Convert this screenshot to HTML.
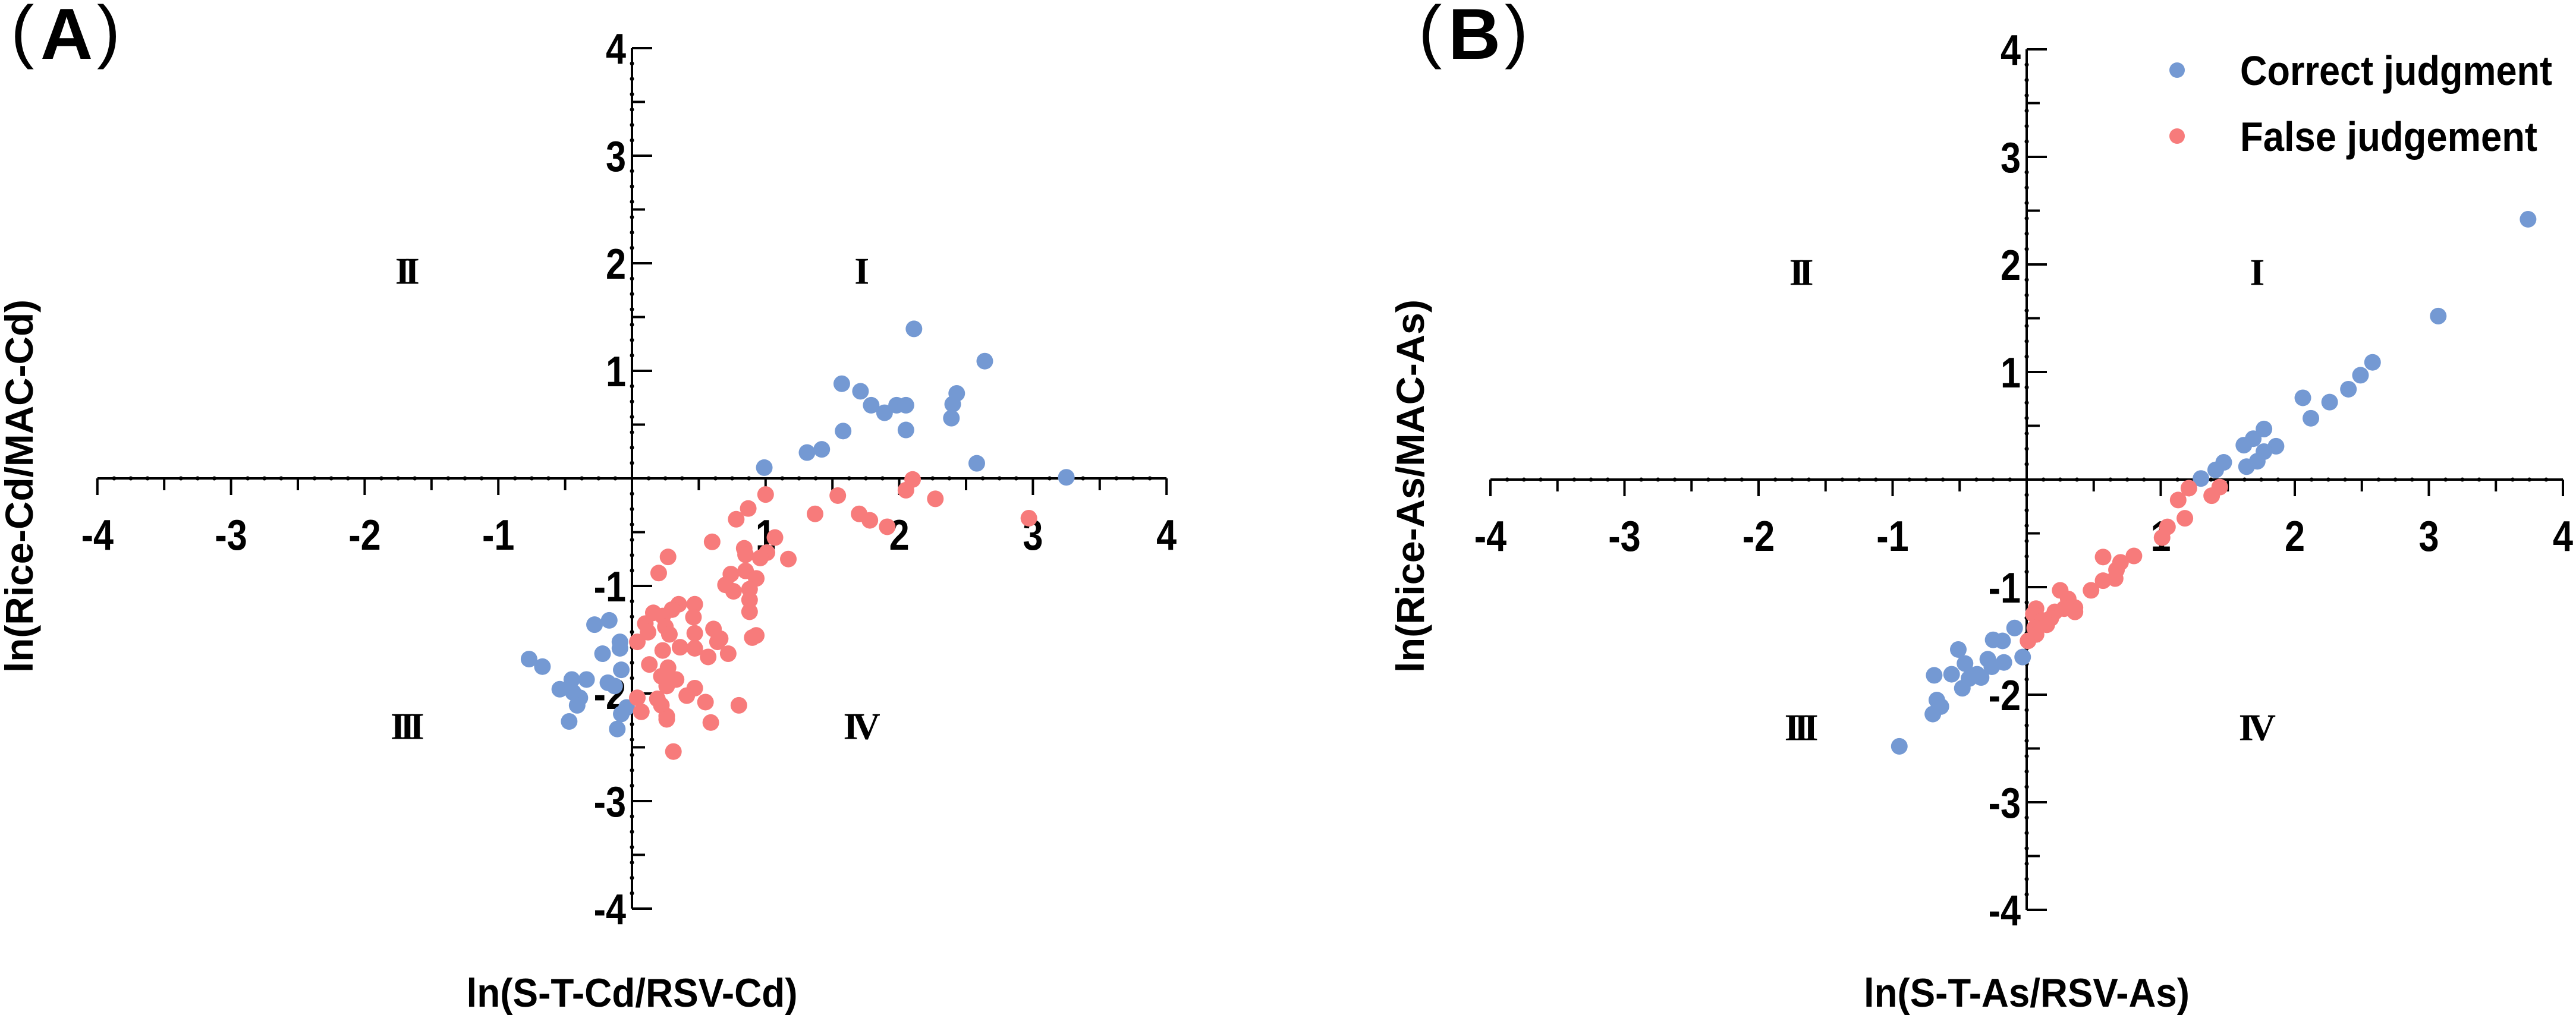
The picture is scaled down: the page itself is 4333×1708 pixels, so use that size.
<!DOCTYPE html>
<html><head><meta charset="utf-8"><style>
html,body{margin:0;padding:0;background:#fff;}
svg{display:block;}
text{font-family:"Liberation Sans",sans-serif;font-weight:bold;fill:#000;}
.rn{font-family:"Liberation Serif",serif;font-weight:bold;}
.par{font-weight:normal;}
</style></head><body>
<svg id="chart" width="4333" height="1708" viewBox="0 0 4333 1708" xmlns="http://www.w3.org/2000/svg"></svg>
<script>
// Panel A data (Cd)
const aCorrectX=[2.11,2.64,1.57,1.71,1.79,1.89,1.98,2.05,2.05,2.43,2.40,2.39,1.58,1.42,1.31,0.99,2.58,3.25,-0.77,-0.67,-0.28,-0.17,-0.09,-0.09,-0.22,-0.08,-0.45,-0.34,-0.18,-0.13,-0.54,-0.44,-0.39,-0.41,-0.47,-0.04,-0.08,-0.11];
const aCorrectY=[1.39,1.09,0.88,0.81,0.68,0.61,0.68,0.68,0.45,0.79,0.69,0.56,0.44,0.27,0.24,0.10,0.14,0.01,-1.68,-1.75,-1.36,-1.32,-1.52,-1.58,-1.63,-1.78,-1.87,-1.87,-1.90,-1.93,-1.96,-1.99,-2.04,-2.11,-2.26,-2.13,-2.19,-2.33];
const aFalseX=[1.00,1.54,1.37,2.10,2.05,2.27,2.97,1.70,1.78,1.91,0.87,0.78,1.07,0.60,0.84,0.85,1.01,0.96,1.17,0.27,0.20,0.74,0.85,0.93,0.70,0.76,0.88,0.88,0.88,0.35,0.47,0.30,0.46,0.16,0.23,0.10,0.25,0.12,0.28,0.04,0.47,0.61,0.64,0.66,0.93,0.90,0.36,0.23,0.47,0.57,0.72,0.13,0.27,0.22,0.33,0.26,0.47,0.41,0.04,0.19,0.22,0.55,0.80,0.07,0.26,0.26,0.59,0.31];
const aFalseY=[-0.15,-0.16,-0.33,-0.01,-0.11,-0.19,-0.37,-0.33,-0.39,-0.45,-0.28,-0.38,-0.55,-0.59,-0.65,-0.71,-0.69,-0.74,-0.75,-0.73,-0.88,-0.89,-0.86,-0.93,-0.99,-1.05,-1.03,-1.13,-1.24,-1.17,-1.17,-1.22,-1.29,-1.25,-1.28,-1.35,-1.38,-1.43,-1.45,-1.52,-1.44,-1.40,-1.52,-1.49,-1.46,-1.48,-1.57,-1.60,-1.58,-1.66,-1.63,-1.73,-1.76,-1.84,-1.87,-1.93,-1.95,-2.02,-2.04,-2.05,-2.11,-2.08,-2.11,-2.17,-2.21,-2.24,-2.27,-2.54];
// Panel B data (As)
const bCorrectX=[3.74,3.07,2.58,2.49,2.40,2.26,2.06,2.12,1.77,1.69,1.62,1.86,1.77,1.72,1.64,1.47,1.41,1.30,-0.09,-0.25,-0.18,-0.51,-0.03,-0.29,-0.17,-0.46,-0.56,-0.69,-0.37,-0.26,-0.43,-0.48,-0.34,-0.67,-0.64,-0.70,-0.95];
const bCorrectY=[2.42,1.52,1.09,0.97,0.84,0.72,0.76,0.57,0.47,0.38,0.32,0.31,0.26,0.17,0.12,0.16,0.09,0.01,-1.38,-1.49,-1.50,-1.58,-1.65,-1.67,-1.70,-1.71,-1.81,-1.82,-1.81,-1.74,-1.85,-1.94,-1.84,-2.05,-2.11,-2.18,-2.48];
const bFalseX=[1.21,1.13,1.44,1.38,1.18,1.05,1.01,0.57,0.80,0.70,0.67,0.66,0.57,0.48,0.25,0.31,0.36,0.36,0.28,0.21,0.18,0.07,0.05,0.12,0.15,0.06,0.01,0.07];
const bFalseY=[-0.08,-0.19,-0.07,-0.15,-0.36,-0.44,-0.54,-0.72,-0.71,-0.77,-0.84,-0.92,-0.94,-1.03,-1.03,-1.11,-1.19,-1.23,-1.20,-1.23,-1.29,-1.20,-1.25,-1.31,-1.35,-1.38,-1.50,-1.44];
const tickValues=[-4,-3,-2,-1,1,2,3,4];
const tickLabels=["-4","-3","-2","-1","1","2","3","4"];

const NS="http://www.w3.org/2000/svg";
const svg=document.getElementById('chart');
function mk(tag,attrs,parent){const e=document.createElementNS(NS,tag);for(const k in attrs)e.setAttribute(k,attrs[k]);(parent||svg).appendChild(e);return e;}
const BLUE="#7499d3",RED="#f77b7b";

function panel(cfg){
  const g=mk('g',{});
  
  
  const sx=v=>cfg.x0+v*cfg.ux, sy=v=>cfg.y0-v*cfg.uy;
  const xa=mk('line',{x1:sx(-4),x2:sx(4),y1:cfg.y0,y2:cfg.y0,stroke:'#000','stroke-width':4},g);
  
  
  const ya=mk('line',{x1:cfg.x0,x2:cfg.x0,y1:sy(4),y2:sy(-4),stroke:'#000','stroke-width':4},g);
  
  
  for(let i=-32;i<=32;i++){const v=i/8; if(i%4!==0) mk('circle',{cx:sx(v),cy:cfg.y0,r:3.5,fill:'#000'},g);}
  for(let i=-28;i<=28;i++){const v=i/7; if(i%7!==0) mk('circle',{cx:cfg.x0,cy:sy(v),r:3.5,fill:'#000'},g);}
  for(let i=-8;i<=8;i++){const v=i/2; if(i===0)continue;
    mk('line',{x1:sx(v),x2:sx(v),y1:cfg.y0,y2:cfg.y0+((i%2===0)?28:20),stroke:'#000','stroke-width':4},g);
    mk('line',{x1:cfg.x0,x2:cfg.x0+((i%2===0)?34:22),y1:sy(v),y2:sy(v),stroke:'#000','stroke-width':4},g);}
  tickValues.forEach((v,i)=>{
    const t=mk('text',{x:0,y:0,'font-size':72,'text-anchor':'middle',transform:`translate(${sx(v)},${cfg.y0+120}) scale(0.85,1)`},g);t.textContent=tickLabels[i];
    
    
    const u=mk('text',{x:0,y:0,'font-size':72,'text-anchor':'end',transform:`translate(${cfg.x0-10},${sy(v)+26}) scale(0.85,1)`},g);u.textContent=tickLabels[i];
    
    
  });
  [["II",-1.7,1.93],["I",1.7,1.93],["III",-1.7,-2.30],["IV",1.7,-2.30]].forEach(q=>{
    const t=mk('text',{x:sx(q[1]),y:sy(q[2])+22,'font-size':64,'text-anchor':'middle','class':'rn','letter-spacing':-9},g);t.textContent=q[0];
    
    
  });
  const draw=(xs,ys,col,nm)=>xs.forEach((x,i)=>{const c=mk('circle',{cx:sx(x),cy:sy(ys[i]),r:14,fill:col},g);
    
    });
  draw(cfg.cx,cfg.cy,BLUE,'correct-point');
  draw(cfg.fx,cfg.fy,RED,'false-point');
  const xt=mk('text',{x:cfg.x0,y:1694,'font-size':68,'text-anchor':'middle',textLength:cfg.xtl,lengthAdjust:'spacingAndGlyphs'},g);xt.textContent=cfg.xt;
  
  
  const yt=mk('text',{x:0,y:0,'font-size':66,'text-anchor':'middle',textLength:628,lengthAdjust:'spacingAndGlyphs',transform:`translate(${cfg.ytx},818) rotate(-90)`},g);yt.textContent=cfg.yt;
  
  
  const pg=mk('g',{},g);
  
  
  const p1=mk('text',{x:cfg.plx+10,y:92,'font-size':118,'class':'par'},pg);p1.textContent='(';
  const p2=mk('text',{x:cfg.plx+60,y:99,'font-size':122},pg);p2.textContent=cfg.pl;
  const p3=mk('text',{x:cfg.plx+155,y:92,'font-size':118,'class':'par'},pg);p3.textContent=')';
}
panel({name:'panel-a-cd',x0:1063,ux:224.8,y0:805,uy:181,cx:aCorrectX,cy:aCorrectY,fx:aFalseX,fy:aFalseY,
  xt:'ln(S-T-Cd/RSV-Cd)',xtl:557,yt:'ln(Rice-Cd/MAC-Cd)',ytx:55,pl:'A',plx:8});
panel({name:'panel-b-as',x0:3409,ux:225.5,y0:807,uy:181,cx:bCorrectX,cy:bCorrectY,fx:bFalseX,fy:bFalseY,
  xt:'ln(S-T-As/RSV-As)',xtl:548,yt:'ln(Rice-As/MAC-As)',ytx:2395,pl:'B',plx:2376});
const lg=mk('g',{});


[["Correct judgment",BLUE,118,525],["False judgement",RED,229,500]].forEach(e=>{
  const gg=mk('g',{},lg);
  
  
  mk('circle',{cx:3662,cy:e[2],r:13,fill:e[1]},gg);
  const t=mk('text',{x:3768,y:e[2]+25,'font-size':70,textLength:e[3],lengthAdjust:'spacingAndGlyphs'},gg);t.textContent=e[0];
});
</script>
</body></html>
